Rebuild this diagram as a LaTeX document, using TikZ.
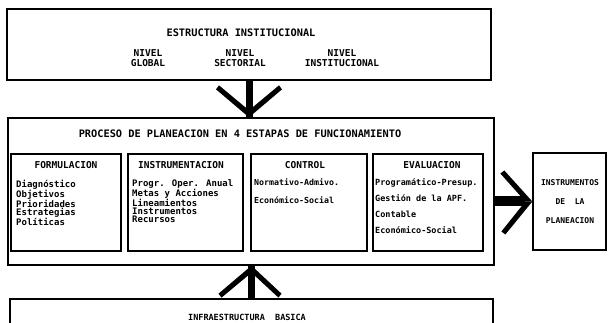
\documentclass[tikz,border=0pt]{standalone}
\usepackage{fontspec}
\newfontfamily\dm{DejaVu Sans Mono}
\usetikzlibrary{calc}
\begin{document}
\begin{tikzpicture}[x=1pt,y=-1pt,
  box/.style={draw, line width=1.3pt, inner sep=0pt, rectangle},
  capt/.style={font=\dm\bfseries\fontsize{10.3}{10}\selectfont, inner sep=0pt, align=center},
  small/.style={font=\dm\bfseries\fontsize{8}{19}\selectfont, inner sep=0pt, align=center},
  tight/.style={font=\dm\bfseries\fontsize{9}{7.7}\selectfont, inner sep=0pt, align=left, anchor=north west},
  loose/.style={font=\dm\bfseries\fontsize{8.5}{16}\selectfont, inner sep=0pt, align=left, anchor=north west},
  stem/.style={line width=7pt},
  wing/.style={fill=black}]
\useasboundingbox (0,0) rectangle (608,323);
\clip (0,0) rectangle (608,323);
% boxes
\node[box, minimum width=484pt, minimum height=71pt] (top) at (249,44.5) {};
\node[box, minimum width=486pt, minimum height=147pt] (mid) at (251,191.5) {};
\node[box, minimum width=110pt, minimum height=97pt] (f) at (66,202.5) {};
\node[box, minimum width=115pt, minimum height=97pt] (i) at (185.5,202.5) {};
\node[box, minimum width=116pt, minimum height=97pt] (c) at (309,202.5) {};
\node[box, minimum width=110pt, minimum height=97pt] (e) at (428,202.5) {};
\node[box, minimum width=73pt, minimum height=97pt] (r) at (569.5,201.5) {};
\node[box, minimum width=483pt, minimum height=60pt] (b) at (251.5,329) {};
% texts top
\node[capt] (t1) at (241,33) {ESTRUCTURA INSTITUCIONAL};
\node[capt, font=\dm\bfseries\fontsize{9.5}{10}\selectfont] (t2) at (148,58) {NIVEL\\GLOBAL};
\node[capt, font=\dm\bfseries\fontsize{9.5}{10}\selectfont] (t3) at (240,58) {NIVEL\\SECTORIAL};
\node[capt, font=\dm\bfseries\fontsize{9.5}{10}\selectfont] (t4) at (342,58) {NIVEL\\INSTITUCIONAL};
% middle
\node[capt] (m1) at (240,134) {PROCESO DE PLANEACION EN 4 ESTAPAS DE FUNCIONAMIENTO};
\node[capt, font=\dm\bfseries\fontsize{9.5}{10}\selectfont] (fl) at (66,165) {FORMULACION};
\node[capt, font=\dm\bfseries\fontsize{9.5}{10}\selectfont] (il) at (181,165) {INSTRUMENTACION};
\node[capt, font=\dm\bfseries\fontsize{9.5}{10}\selectfont] (cl) at (305,165) {CONTROL};
\node[capt, font=\dm\bfseries\fontsize{9.5}{10}\selectfont] (el) at (432,165) {EVALUACION};
\node[tight] (fx) at (16,179.5) {Diagnóstico\\Objetivos\\Prioridades\\Estrategias\\Políticas};
\node[tight] (ix) at (132,179.5) {Progr. Oper. Anual\\Metas y Acciones\\Lineamientos\\Instrumentos\\Recursos};
\node[loose, font=\dm\bfseries\fontsize{8.3}{18}\selectfont] (cx) at (254,178.7) {Normativo-Admivo.\\Económico-Social};
\node[loose] (ex) at (375,178.5) {Programático-Presup.\\Gestión de la APF.\\Contable\\Económico-Social};
% right box
\node[small] (rx) at (570,202) {INSTRUMENTOS\\DE~~LA\\PLANEACION};
% bottom
\node[capt, font=\dm\bfseries\fontsize{8.5}{10}\selectfont] (bx) at (247,317) {INFRAESTRUCTURA~~BASICA};
% down arrow
\coordinate (dt) at (top.south |- mid.north);
\draw[stem] (top.south) -- (dt);
\fill[wing] (dt) -- ++(0,-7) -- ++(-30,-25) -- ++(-3,4) -- cycle;
\fill[wing] (dt) -- ++(0,-7) -- ++(30,-25) -- ++(3,4) -- cycle;
% up arrow
\coordinate (ut) at (b.north |- mid.south);
\draw[stem] (b.north) -- (ut);
\fill[wing] (ut) -- ++(0,7) -- ++(-30,25) -- ++(-3,-4) -- cycle;
\fill[wing] (ut) -- ++(0,7) -- ++(27,25) -- ++(3,-4) -- cycle;
% right arrow
\coordinate (rt) at (r.west);
\draw[line width=10pt] (mid.east |- r.west) -- ++(30,0);
\fill[wing] (rt) -- ++(-7,0) -- ++(-25,-28) -- ++(4,-3) -- cycle;
\fill[wing] (rt) -- ++(-7,0) -- ++(-24,30) -- ++(4,3) -- cycle;
\end{tikzpicture}
\end{document}
